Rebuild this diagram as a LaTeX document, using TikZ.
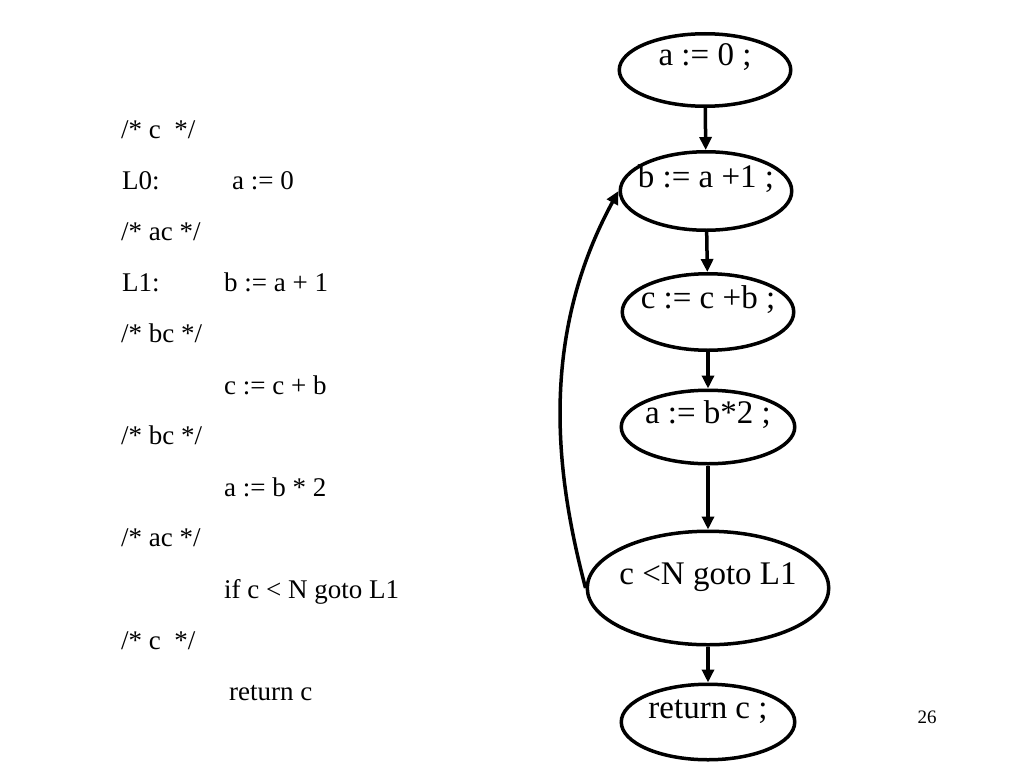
\documentclass[tikz,border=0pt]{standalone}
\usepackage{fontspec}
\setmainfont{LiberationSerif}[Extension = .ttf, UprightFont = *-Regular]
\usepackage{tikz}
\usetikzlibrary{arrows.meta, shapes.geometric, positioning}

\newcommand{\blktext}[1]{\raisebox{4pt}[0pt][0pt]{\makebox[0pt]{#1}}}

\begin{document}
\begin{tikzpicture}[x = 1pt, y = -1pt,
  blk/.style = {draw, ellipse, line width = 3.5pt, inner sep = 0pt, font = \rmfamily\fontsize{33}{40}\selectfont},
  flow/.style = {line width = 3.5pt, -{Triangle[length = 13pt, width = 12pt]}},
  code/.style = {anchor = base west, inner sep = 0pt, font = \rmfamily\fontsize{27}{32}\selectfont}]
\useasboundingbox (0, 0) rectangle (1024, 768);
% program text
\foreach \txt [count = \i from 0] in {{/* c\ \ */}, {/* ac */}, {/* bc */}, {/* bc */}, {/* ac */}, {/* c\ \ */}}{
\node[code] (cm\i) at (121, 138 + 102.2*\i) {\txt};}
\node[code] (l0) at (122, 189) {L0:};
\node[code] (s0) at (232, 189) {a := 0};
\node[code] (l1) at (122, 291) {L1:};
\node[code] (s1) at (224, 291) {b := a + 1};
\node[code] (s2) at (224, 394) {c := c + b};
\node[code] (s3) at (224, 496) {a := b * 2};
\node[code] (s4) at (224, 598) {if c < N goto L1};
\node[code] (s5) at (229, 700) {return c};
% flow graph
\node[blk, minimum width = 171.5pt, minimum height = 72.5pt] at (705, 70) (a0) {\blktext{a := 0 ;}};
\node[blk, minimum width = 171.5pt, minimum height = 78.5pt] at (706, 191) (b1) {\blktext{b := a +1 ;}};
\node[blk, minimum width = 171.5pt, minimum height = 76.5pt] at (708, 312) (cb) {\blktext{c := c +b ;}};
\node[blk, minimum width = 173.5pt, minimum height = 73.5pt] at (708, 427) (ab) {\blktext{a := b*2 ;}};
\node[blk, minimum width = 241.5pt, minimum height = 113.5pt] at (708, 588) (cn) {\blktext{c <N goto L1}};
\node[blk, minimum width = 173.5pt, minimum height = 75.5pt] at (708, 722) (rc) {\blktext{return c ;}};
\draw[flow] (a0) -- (b1);
\draw[flow] (b1) -- (cb);
\draw[flow] (cb) -- (ab);
\draw[flow] (ab) -- (cn);
\draw[flow] (cn) -- (rc);
\draw[flow] (cn.west) .. controls (560, 490) and (534, 346) .. (b1.west);
% page number
\node[anchor = base, inner sep = 0pt, font = \rmfamily\fontsize{19}{23}\selectfont] (pg) at (927, 723) {26};
\end{tikzpicture}
\end{document}
